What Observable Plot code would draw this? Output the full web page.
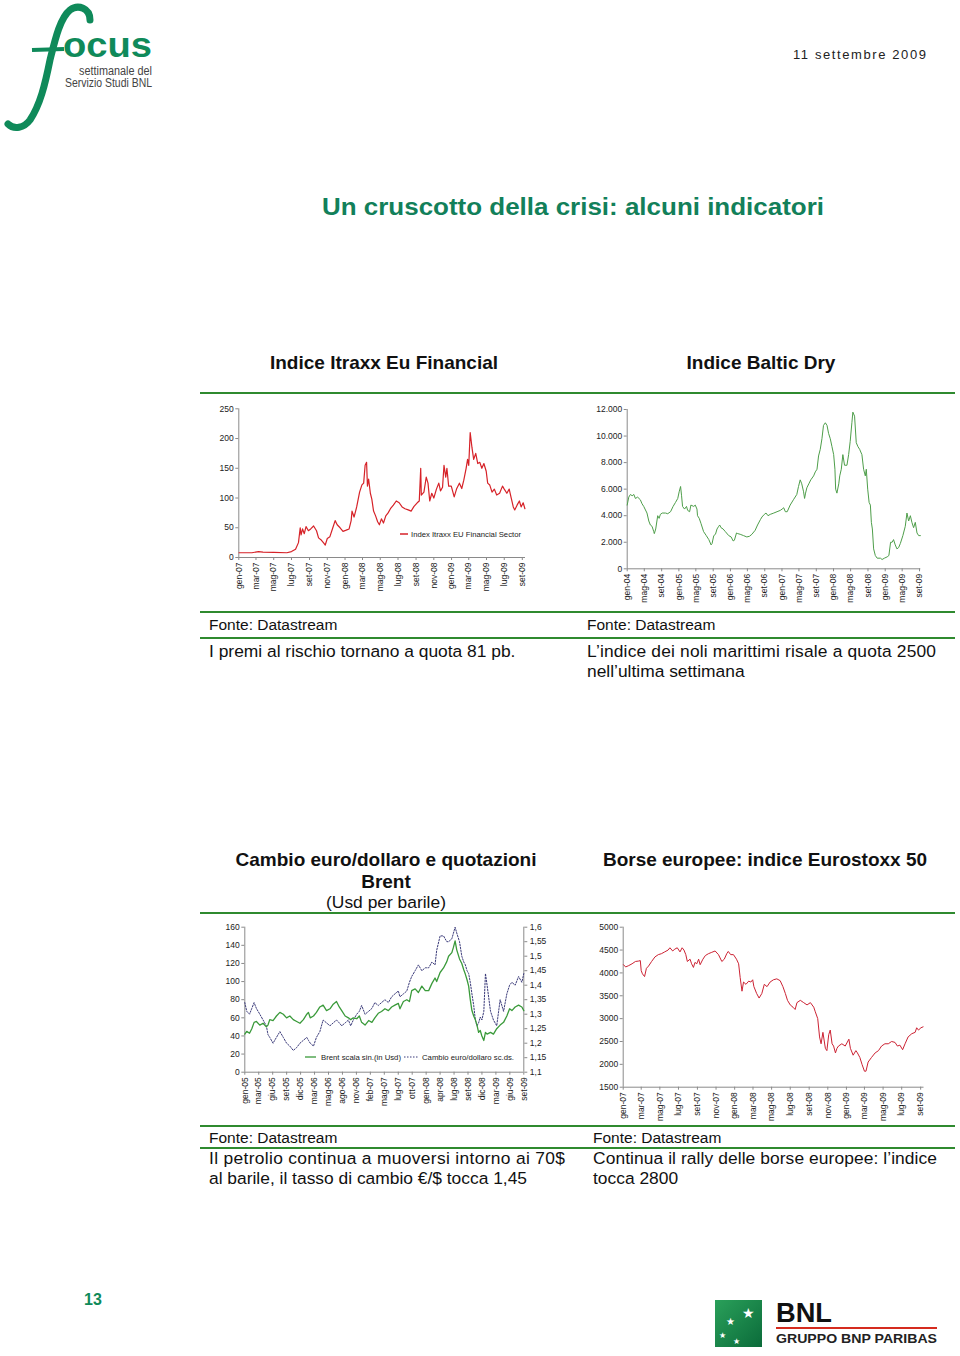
<!DOCTYPE html>
<html><head><meta charset="utf-8">
<script src="https://cdn.jsdelivr.net/npm/d3@7"></script>
<script src="https://cdn.jsdelivr.net/npm/@observablehq/plot@0.6"></script>
<style>
body{margin:0;background:#fff;}
#page{position:relative;width:960px;height:1356px;overflow:hidden;font-family:"Liberation Sans",Arial,sans-serif;}
.chart{position:absolute;}
#bg{position:absolute;left:0;top:0;}
</style></head><body>
<div id="page">
<svg id="bg" width="960" height="1356" font-family="Liberation Sans, Arial, sans-serif">
  <!-- focus logo -->
  <path d="M 90 20 C 90 8, 78 4, 70 10 C 60 18, 55 40, 50 60 C 45 85, 40 105, 30 120 C 24 128, 14 130, 8 124" fill="none" stroke="#0f8a5a" stroke-width="7" stroke-linecap="round"/>
  <path d="M 32 50 L 64 49" stroke="#0f8a5a" stroke-width="4"/>
  <text x="63" y="57" font-size="35" font-weight="bold" fill="#0f8a5a" textLength="89" lengthAdjust="spacingAndGlyphs">ocus</text>
  <text x="79" y="75" font-size="12" fill="#444" textLength="73" lengthAdjust="spacingAndGlyphs">settimanale del</text>
  <text x="65" y="87" font-size="12" fill="#444" textLength="87" lengthAdjust="spacingAndGlyphs">Servizio Studi BNL</text>
  <text x="793" y="59" font-size="13" fill="#222" textLength="133" lengthAdjust="spacing">11 settembre 2009</text>
  <text x="573" y="215" font-size="23.5" font-weight="bold" fill="#12805a" text-anchor="middle" textLength="502" lengthAdjust="spacingAndGlyphs">Un cruscotto della crisi: alcuni indicatori</text>

  <text x="384" y="369" font-size="19" font-weight="bold" fill="#111" text-anchor="middle">Indice Itraxx Eu Financial</text>
  <text x="761" y="369" font-size="19" font-weight="bold" fill="#111" text-anchor="middle">Indice Baltic Dry</text>
  <line x1="200" x2="955" y1="393" y2="393" stroke="#2f8a2f" stroke-width="2"/>
  <line x1="200" x2="955" y1="612" y2="612" stroke="#2f8a2f" stroke-width="2"/>
  <line x1="200" x2="955" y1="638" y2="638" stroke="#2f8a2f" stroke-width="2"/>
  <text x="209" y="630" font-size="15.5" fill="#111">Fonte: Datastream</text>
  <text x="587" y="630" font-size="15.5" fill="#111">Fonte: Datastream</text>
  <text x="209" y="657" font-size="17.4" fill="#111">I premi al rischio tornano a quota 81 pb.</text>
  <text x="587" y="657" font-size="17.4" fill="#111" textLength="349" lengthAdjust="spacing">L’indice dei noli marittimi risale a quota 2500</text>
  <text x="587" y="677" font-size="17.4" fill="#111">nell’ultima settimana</text>

  <text x="386" y="866" font-size="19" font-weight="bold" fill="#111" text-anchor="middle">Cambio euro/dollaro e quotazioni</text>
  <text x="386" y="888" font-size="19" font-weight="bold" fill="#111" text-anchor="middle">Brent</text>
  <text x="386" y="908" font-size="17.4" fill="#111" text-anchor="middle">(Usd per barile)</text>
  <text x="765" y="866" font-size="19" font-weight="bold" fill="#111" text-anchor="middle">Borse europee: indice Eurostoxx 50</text>
  <line x1="200" x2="955" y1="913" y2="913" stroke="#2f8a2f" stroke-width="2"/>
  <line x1="200" x2="955" y1="1126" y2="1126" stroke="#2f8a2f" stroke-width="2"/>
  <line x1="200" x2="955" y1="1148" y2="1148" stroke="#2f8a2f" stroke-width="2"/>
  <text x="209" y="1143" font-size="15.5" fill="#111">Fonte: Datastream</text>
  <text x="593" y="1143" font-size="15.5" fill="#111">Fonte: Datastream</text>
  <text x="209" y="1164" font-size="17.4" fill="#111" textLength="356" lengthAdjust="spacing">Il petrolio continua a muoversi intorno ai 70$</text>
  <text x="209" y="1184" font-size="17.4" fill="#111">al barile, il tasso di cambio €/$  tocca 1,45</text>
  <text x="593" y="1164" font-size="17.4" fill="#111" textLength="344" lengthAdjust="spacing">Continua il rally delle borse europee: l’indice</text>
  <text x="593" y="1184" font-size="17.4" fill="#111">tocca 2800</text>

  <text x="84" y="1305" font-size="16" font-weight="bold" fill="#0f8a5a">13</text>

  <!-- BNL logo -->
  <defs><linearGradient id="gbnl" x1="0" y1="0" x2="1" y2="1"><stop offset="0" stop-color="#2aa05a"/><stop offset="1" stop-color="#0b6b3a"/></linearGradient></defs>
  <rect x="715" y="1300" width="47" height="47" fill="url(#gbnl)"/>
  <text x="742" y="1318" font-size="14" fill="#fff" font-family="DejaVu Sans">★</text>
  <text x="726" y="1325" font-size="10" fill="#fff" font-family="DejaVu Sans">★</text>
  <text x="719" y="1338" font-size="8" fill="#fff" font-family="DejaVu Sans">★</text>
  <text x="733" y="1344" font-size="8" fill="#fff" font-family="DejaVu Sans">★</text>
  <text x="776" y="1322" font-size="27" font-weight="bold" fill="#111" textLength="56" lengthAdjust="spacingAndGlyphs">BNL</text>
  <line x1="776" x2="937" y1="1328" y2="1328" stroke="#d52b1e" stroke-width="2"/>
  <text x="776" y="1343" font-size="12" font-weight="bold" fill="#222" textLength="161" lengthAdjust="spacingAndGlyphs">GRUPPO BNP PARIBAS</text>

  <!-- legends -->
  <line x1="400" x2="408" y1="534" y2="534" stroke="#d62228" stroke-width="1.5"/>
  <text x="411" y="537" font-size="8" fill="#222" textLength="110" lengthAdjust="spacingAndGlyphs">Index Itraxx EU Financial Sector</text>
  <line x1="305" x2="316" y1="1057" y2="1057" stroke="#3a9a3a" stroke-width="1.3"/>
  <text x="321" y="1060" font-size="8" fill="#222" textLength="80" lengthAdjust="spacingAndGlyphs">Brent scala sin.(in Usd)</text>
  <line x1="404" x2="418" y1="1057" y2="1057" stroke="#3b3b7a" stroke-width="1" stroke-dasharray="1.5,1.5"/>
  <text x="422" y="1060" font-size="8" fill="#222" textLength="92" lengthAdjust="spacingAndGlyphs">Cambio euro/dollaro sc.ds.</text>
</svg>
<div class="chart" id="c1" style="left:200px;top:400px"></div>
<div class="chart" id="c2" style="left:580px;top:400px"></div>
<div class="chart" id="c3" style="left:200px;top:920px"></div>
<div class="chart" id="c4" style="left:580px;top:920px"></div>
</div>
<script>
// ---------- DATA ----------
const itraxxDates = ["2007-01-02","2007-02-15","2007-03-10","2007-03-25","2007-05-01","2007-06-15","2007-07-01","2007-07-15","2007-07-25","2007-07-31","2007-08-03","2007-08-08","2007-08-14","2007-08-20","2007-08-28","2007-09-05","2007-09-15","2007-09-25","2007-10-02","2007-10-10","2007-10-20","2007-10-25","2007-11-01","2007-11-10","2007-11-20","2007-11-28","2007-12-05","2007-12-15","2007-12-25","2008-01-05","2008-01-15","2008-01-22","2008-01-25","2008-02-01","2008-02-10","2008-02-20","2008-02-28","2008-03-05","2008-03-10","2008-03-15","2008-03-18","2008-03-22","2008-03-28","2008-04-02","2008-04-08","2008-04-15","2008-04-22","2008-04-28","2008-05-05","2008-05-12","2008-05-20","2008-05-28","2008-06-05","2008-06-15","2008-06-25","2008-07-05","2008-07-15","2008-07-25","2008-08-05","2008-08-15","2008-08-25","2008-09-05","2008-09-12","2008-09-17","2008-09-19","2008-09-28","2008-10-06","2008-10-12","2008-10-18","2008-10-25","2008-11-01","2008-11-10","2008-11-18","2008-11-24","2008-12-01","2008-12-06","2008-12-12","2008-12-16","2008-12-22","2008-12-31","2009-01-10","2009-01-18","2009-01-28","2009-02-05","2009-02-12","2009-02-20","2009-02-25","2009-03-01","2009-03-06","2009-03-12","2009-03-18","2009-03-25","2009-04-01","2009-04-08","2009-04-15","2009-04-22","2009-04-30","2009-05-05","2009-05-12","2009-05-20","2009-05-28","2009-06-05","2009-06-15","2009-06-25","2009-07-01","2009-07-10","2009-07-18","2009-07-25","2009-08-01","2009-08-06","2009-08-14","2009-08-22","2009-08-28","2009-09-04","2009-09-10"];
const itraxxValues = [8,8,10,9,8.5,8,10,14,25,50,38,48,40,52,45,48,53,45,33,30,24,21,32,35,50,62,55,50,44,46,48,62,78,68,85,110,122,125,155,160,120,132,108,98,78,70,60,55,65,58,70,75,82,88,95,92,85,82,80,78,86,92,95,150,105,110,135,125,95,108,100,115,125,112,118,155,135,150,120,120,102,115,125,116,130,150,165,155,210,185,165,175,158,160,150,158,145,125,122,110,115,105,108,120,115,108,115,100,85,80,88,95,85,92,82];
const itraxxTickLabels = ["gen-07","mar-07","mag-07","lug-07","set-07","nov-07","gen-08","mar-08","mag-08","lug-08","set-08","nov-08","gen-09","mar-09","mag-09","lug-09","set-09"];
const itraxxYTicks = [0,50,100,150,200,250];

const balticDates = ["2004-01-01","2004-01-12","2004-01-24","2004-02-05","2004-02-17","2004-02-28","2004-03-15","2004-04-03","2004-04-15","2004-04-27","2004-05-20","2004-06-02","2004-06-13","2004-06-25","2004-07-07","2004-07-11","2004-07-21","2004-08-04","2004-08-14","2004-08-23","2004-09-05","2004-09-28","2004-10-14","2004-11-03","2004-11-21","2004-12-08","2004-12-24","2005-01-03","2005-01-13","2005-01-20","2005-01-27","2005-02-10","2005-02-24","2005-03-04","2005-03-18","2005-03-27","2005-04-16","2005-04-27","2005-05-09","2005-05-13","2005-05-25","2005-06-07","2005-06-25","2005-07-14","2005-08-01","2005-08-17","2005-08-24","2005-09-05","2005-09-17","2005-09-28","2005-10-10","2005-10-17","2005-10-26","2005-11-10","2005-11-26","2005-12-20","2006-01-06","2006-01-20","2006-01-29","2006-02-13","2006-02-22","2006-03-11","2006-04-04","2006-04-27","2006-05-16","2006-06-02","2006-06-25","2006-07-12","2006-08-01","2006-08-12","2006-08-29","2006-09-10","2006-09-24","2006-10-10","2006-11-04","2006-11-27","2006-12-20","2007-01-02","2007-01-13","2007-01-25","2007-02-07","2007-02-28","2007-03-23","2007-04-16","2007-04-28","2007-05-10","2007-05-21","2007-06-03","2007-06-10","2007-06-17","2007-06-26","2007-07-10","2007-07-24","2007-08-13","2007-08-25","2007-09-06","2007-09-17","2007-09-29","2007-10-11","2007-10-22","2007-11-04","2007-11-16","2007-11-27","2007-12-09","2007-12-21","2008-01-02","2008-01-11","2008-01-16","2008-01-25","2008-02-07","2008-02-14","2008-02-25","2008-03-07","2008-03-19","2008-04-05","2008-04-17","2008-04-28","2008-05-10","2008-05-17","2008-05-29","2008-06-10","2008-06-22","2008-07-04","2008-07-20","2008-08-01","2008-08-13","2008-08-20","2008-08-30","2008-09-09","2008-09-18","2008-09-25","2008-10-02","2008-10-11","2008-10-23","2008-11-05","2008-11-28","2008-12-10","2008-12-26","2009-01-15","2009-01-27","2009-02-08","2009-02-19","2009-03-01","2009-03-13","2009-03-25","2009-04-06","2009-04-18","2009-05-06","2009-05-23","2009-06-04","2009-06-16","2009-06-28","2009-07-09","2009-07-21","2009-08-02","2009-08-14","2009-08-26","2009-09-07"];
const balticValues = [4800,5400,5600,5500,5600,5300,5400,5200,4900,4700,4200,3600,3300,3200,2800,2650,3000,4000,3800,4100,4200,4200,4150,4300,4700,5000,5300,5800,6200,5500,4700,4500,4700,4400,4300,4800,4700,4800,4500,4000,3800,3400,2800,2500,2200,1800,1900,2500,2600,3000,3200,3300,3100,3000,2800,2500,2400,2100,2150,2700,2650,2600,2500,2400,2450,2600,2900,3300,3700,3900,4100,4200,4000,4100,4200,4300,4400,4500,4600,4300,4300,4800,5200,5600,6200,6700,6400,5800,5300,5700,6100,6400,6700,7000,7300,7500,8500,9000,9800,10800,11000,10800,10200,9800,9200,8600,7500,6000,5700,6400,7000,7500,8600,7800,7800,8600,9600,11000,11800,11500,9500,9200,9000,8600,7500,7000,7500,6000,5000,4800,3500,3000,1500,1000,800,800,700,800,900,1000,2000,2000,2200,1800,1500,1600,1900,2500,3200,4200,3600,4000,3500,3100,3500,2700,2500,2500];
const balticTickLabels = ["gen-04","mag-04","set-04","gen-05","mag-05","set-05","gen-06","mag-06","set-06","gen-07","mag-07","set-07","gen-08","mag-08","set-08","gen-09","mag-09","set-09"];
const balticYTicks = [0,2000,4000,6000,8000,10000,12000];

const brentDates = ["2005-01-03","2005-01-15","2005-02-01","2005-02-15","2005-03-01","2005-03-15","2005-04-05","2005-04-25","2005-05-15","2005-05-25","2005-06-05","2005-06-25","2005-07-16","2005-08-06","2005-08-27","2005-09-16","2005-10-06","2005-10-27","2005-11-17","2005-12-07","2005-12-28","2006-01-18","2006-01-28","2006-02-08","2006-02-28","2006-03-18","2006-04-08","2006-04-28","2006-05-19","2006-06-09","2006-06-29","2006-07-19","2006-08-05","2006-08-20","2006-09-10","2006-09-30","2006-10-14","2006-10-30","2006-11-20","2006-12-06","2006-12-20","2007-01-10","2007-02-01","2007-02-21","2007-03-11","2007-04-01","2007-04-21","2007-05-12","2007-06-02","2007-06-22","2007-07-12","2007-08-02","2007-08-12","2007-09-02","2007-09-23","2007-10-09","2007-10-23","2007-11-13","2007-12-03","2007-12-24","2008-01-14","2008-02-04","2008-02-24","2008-03-14","2008-03-24","2008-04-14","2008-05-05","2008-05-25","2008-06-05","2008-06-25","2008-07-05","2008-07-15","2008-07-25","2008-08-11","2008-08-25","2008-09-06","2008-09-16","2008-09-26","2008-10-06","2008-10-16","2008-10-26","2008-11-06","2008-11-16","2008-11-26","2008-12-06","2008-12-16","2008-12-26","2009-01-07","2009-01-17","2009-01-27","2009-02-17","2009-03-07","2009-03-27","2009-04-17","2009-05-08","2009-05-28","2009-06-14","2009-06-28","2009-07-18","2009-08-08","2009-08-28","2009-09-09"];
const brentValues = [42,45,43,48,55,56,52,54,50,52,58,57,62,66,64,60,62,58,56,54,58,64,66,60,62,66,72,74,68,70,75,78,72,68,62,60,58,60,59,62,55,52,57,55,60,65,67,70,68,72,74,76,70,78,80,78,90,92,88,95,90,90,98,104,100,110,115,122,128,132,138,145,135,125,120,113,108,102,95,80,68,62,58,52,44,46,40,35,44,42,44,42,48,52,55,62,70,68,72,74,72,68];
const eurusdValues = [1.34,1.31,1.30,1.32,1.34,1.32,1.30,1.28,1.26,1.23,1.22,1.20,1.22,1.24,1.22,1.20,1.19,1.175,1.185,1.20,1.21,1.22,1.21,1.20,1.19,1.22,1.24,1.28,1.27,1.26,1.27,1.28,1.27,1.26,1.27,1.28,1.26,1.28,1.30,1.31,1.33,1.30,1.31,1.32,1.34,1.33,1.34,1.35,1.34,1.36,1.37,1.38,1.36,1.37,1.38,1.41,1.43,1.45,1.47,1.45,1.46,1.46,1.48,1.47,1.52,1.57,1.57,1.55,1.55,1.56,1.58,1.60,1.58,1.55,1.50,1.48,1.47,1.45,1.44,1.41,1.37,1.33,1.28,1.26,1.27,1.29,1.28,1.31,1.44,1.40,1.31,1.28,1.26,1.35,1.31,1.37,1.40,1.41,1.40,1.43,1.41,1.44];
const brentTickLabels = ["gen-05","mar-05","giu-05","set-05","dic-05","mar-06","mag-06","ago-06","nov-06","feb-07","mag-07","lug-07","ott-07","gen-08","apr-08","lug-08","set-08","dic-08","mar-09","giu-09","set-09"];
const brentYTicks = [0,20,40,60,80,100,120,140,160];
const eurusdTicks = [1.1,1.15,1.2,1.25,1.3,1.35,1.4,1.45,1.5,1.55,1.6];

const stoxxDates = ["2007-01-02","2007-01-09","2007-01-19","2007-01-30","2007-02-10","2007-02-21","2007-02-26","2007-03-01","2007-03-05","2007-03-12","2007-03-18","2007-03-25","2007-04-04","2007-04-15","2007-04-26","2007-05-06","2007-05-17","2007-05-28","2007-06-03","2007-06-12","2007-06-19","2007-06-27","2007-07-06","2007-07-13","2007-07-19","2007-07-25","2007-07-30","2007-08-08","2007-08-13","2007-08-19","2007-08-24","2007-08-30","2007-09-05","2007-09-10","2007-09-19","2007-09-27","2007-10-07","2007-10-18","2007-10-29","2007-11-09","2007-11-20","2007-11-28","2007-12-06","2007-12-11","2007-12-19","2007-12-28","2008-01-07","2008-01-14","2008-01-19","2008-01-25","2008-01-30","2008-02-07","2008-02-16","2008-02-23","2008-02-29","2008-03-04","2008-03-13","2008-03-21","2008-03-30","2008-04-07","2008-04-16","2008-04-26","2008-05-07","2008-05-18","2008-05-29","2008-06-07","2008-06-15","2008-06-22","2008-07-01","2008-07-10","2008-07-17","2008-07-23","2008-08-03","2008-08-14","2008-08-25","2008-09-05","2008-09-16","2008-09-21","2008-09-29","2008-10-05","2008-10-10","2008-10-16","2008-10-24","2008-10-29","2008-11-04","2008-11-09","2008-11-15","2008-11-20","2008-11-26","2008-12-01","2008-12-06","2008-12-17","2008-12-28","2009-01-09","2009-01-14","2009-01-23","2009-02-01","2009-02-06","2009-02-14","2009-02-21","2009-03-01","2009-03-06","2009-03-13","2009-03-24","2009-04-05","2009-04-16","2009-04-26","2009-05-07","2009-05-18","2009-05-29","2009-06-09","2009-06-17","2009-06-25","2009-07-04","2009-07-12","2009-07-22","2009-08-03","2009-08-14","2009-08-19","2009-08-25","2009-09-02","2009-09-09"];
const stoxxValues = [4180,4130,4160,4200,4250,4260,4270,4050,3980,3920,4100,4150,4250,4350,4400,4420,4460,4500,4550,4480,4520,4550,4460,4550,4500,4400,4250,4300,4200,4120,4230,4200,4300,4180,4300,4380,4420,4450,4480,4400,4250,4300,4420,4470,4400,4400,4300,4200,3900,3600,3800,3750,3820,3800,3850,3700,3550,3450,3550,3750,3700,3800,3850,3870,3830,3700,3550,3400,3300,3250,3200,3350,3400,3350,3300,3350,3250,3150,3000,2600,2450,2700,2350,2300,2650,2750,2450,2400,2250,2350,2400,2450,2400,2550,2350,2200,2300,2250,2150,2000,1850,1850,2050,2150,2250,2300,2400,2450,2450,2500,2480,2400,2420,2320,2450,2600,2670,2700,2800,2750,2800,2820];
const stoxxTickLabels = ["gen-07","mar-07","mag-07","lug-07","set-07","nov-07","gen-08","mar-08","mag-08","lug-08","set-08","nov-08","gen-09","mar-09","mag-09","lug-09","set-09"];
const stoxxYTicks = [1500,2000,2500,3000,3500,4000,4500,5000];

// ---------- HELPERS ----------
const mesi = ["gen","feb","mar","apr","mag","giu","lug","ago","set","ott","nov","dic"];
const labelToDate = s => { const [m, y] = s.split("-"); return new Date(Date.UTC(2000 + +y, mesi.indexOf(m), 1)); };
const monthLabel = d => mesi[d.getUTCMonth()] + "-" + String(d.getUTCFullYear()).slice(2);
const it = d3.formatLocale({decimal: ",", thousands: ".", grouping: [3], currency: ["€", ""]});
const series = (dates, values) => dates.map((d, i) => ({date: new Date(d), value: values[i]}));
const axisColor = "#8a8a8a";
const baseStyle = {fontFamily: "Liberation Sans Narrow, Liberation Sans, Arial, sans-serif", fontSize: "8.5px", color: "#222", background: "transparent", overflow: "visible"};

function simpleChart({el, data, width, height, ml, mr, mt, mb, xDomain, yDomain, yTicks, yFormat, tickLabels, stroke, sw}) {
  const chart = Plot.plot({
    width, height, marginLeft: ml, marginRight: mr, marginTop: mt, marginBottom: mb,
    style: baseStyle,
    x: {type: "utc", domain: xDomain},
    y: {domain: yDomain},
    marks: [
      Plot.axisY({ticks: yTicks, tickFormat: yFormat, tickSize: 3, tickPadding: 2, stroke: axisColor, label: null}),
      Plot.axisX({ticks: tickLabels.map(labelToDate), tickFormat: monthLabel, tickRotate: -90, tickSize: 3, tickPadding: 2, stroke: axisColor, label: null}),
      Plot.ruleX([xDomain[0]], {stroke: axisColor}),
      Plot.ruleY([yDomain[0]], {stroke: axisColor}),
      Plot.lineY(data, {x: "date", y: "value", stroke, strokeWidth: sw})
    ]
  });
  document.getElementById(el).append(chart);
}

// Chart 1: Itraxx
simpleChart({el: "c1", data: series(itraxxDates, itraxxValues), width: 340, height: 195, ml: 38.3, mr: 15, mt: 8.3, mb: 38,
  xDomain: [new Date("2007-01-01"), new Date("2009-09-12")], yDomain: [0, 250], yTicks: itraxxYTicks, yFormat: d => String(d),
  tickLabels: itraxxTickLabels, stroke: "#d62228", sw: 1.2});

// Chart 2: Baltic Dry
simpleChart({el: "c2", data: series(balticDates, balticValues), width: 370, height: 205, ml: 46.7, mr: 29.7, mt: 9, mb: 36.7,
  xDomain: [new Date("2004-01-01"), new Date("2009-09-10")], yDomain: [0, 12000], yTicks: balticYTicks, yFormat: it.format(","),
  tickLabels: balticTickLabels, stroke: "#4e9e4a", sw: 1});

// Chart 4: Eurostoxx 50
simpleChart({el: "c4", data: series(stoxxDates, stoxxValues), width: 360, height: 205, ml: 42.7, mr: 16.5, mt: 6.7, mb: 38.3,
  xDomain: [new Date("2007-01-01"), new Date("2009-09-12")], yDomain: [1500, 5000], yTicks: stoxxYTicks, yFormat: d => String(d),
  tickLabels: stoxxTickLabels, stroke: "#cc2233", sw: 1});

// Chart 3: Brent + EUR/USD (dual axis)
{
  const x0 = new Date("2005-01-03"), x1 = new Date("2009-09-09");
  const toLeft = r => (r - 1.1) / 0.5 * 160;
  const fromLeft = v => 1.1 + v / 160 * 0.5;
  const brent = series(brentDates, brentValues);
  const fx = brentDates.map((d, i) => ({date: new Date(d), value: toLeft(eurusdValues[i])}));
  const tickDates = brentTickLabels.map((_, i) => new Date(+x0 + i * (x1 - x0) / (brentTickLabels.length - 1)));
  const chart = Plot.plot({
    width: 360, height: 190, marginLeft: 44.3, marginRight: 36.7, marginTop: 6.7, marginBottom: 38.3,
    style: baseStyle,
    x: {type: "utc", domain: [x0, x1]},
    y: {domain: [0, 160]},
    marks: [
      Plot.axisY({ticks: brentYTicks, tickSize: 3, tickPadding: 2, stroke: axisColor, label: null}),
      Plot.axisY({anchor: "right", ticks: eurusdTicks.map(toLeft), tickFormat: v => it.format(".3~g")(fromLeft(v)), tickSize: 3, tickPadding: 3, stroke: axisColor, label: null}),
      Plot.axisX({ticks: tickDates, tickFormat: (d, i) => brentTickLabels[i], tickRotate: -90, tickSize: 3, tickPadding: 2, stroke: axisColor, label: null}),
      Plot.ruleX([x0, x1], {stroke: axisColor}),
      Plot.ruleY([0], {stroke: axisColor}),
      Plot.lineY(fx, {x: "date", y: "value", stroke: "#3b3b7a", strokeWidth: 1, strokeDasharray: "1.5,1.5"}),
      Plot.lineY(brent, {x: "date", y: "value", stroke: "#3a9a3a", strokeWidth: 1.3})
    ]
  });
  document.getElementById("c3").append(chart);
}
</script>
</body></html>
